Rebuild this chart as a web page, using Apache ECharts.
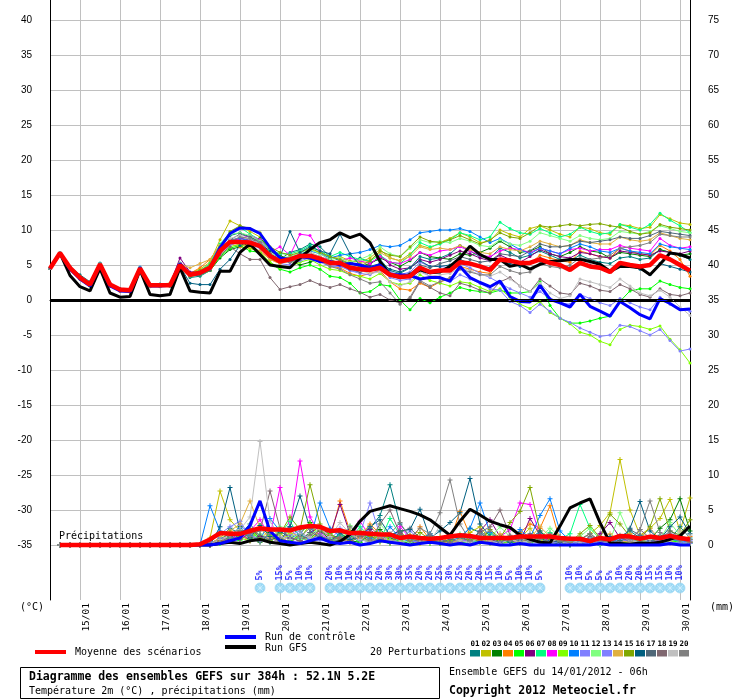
<!DOCTYPE html>
<html>
<head>
<meta charset="utf-8">
<title>GEFS ensembles</title>
<script src="https://cdn.jsdelivr.net/npm/echarts@6/dist/echarts.min.js"></script>
<style>
html, body { margin: 0; padding: 0; background: #fff; }
#chart { width: 740px; height: 700px; }
</style>
</head>
<body>
<div id="chart"></div>
<script>
// GEFS run of 14/01/2012 06h, one value every 6h from 0h to 384h (65 steps)
var hour = 3600 * 1000;
var runStart = Date.UTC(2012, 0, 14, 6);
var runEnd = runStart + 384 * hour;

var tempTicks = [-35, -30, -25, -20, -15, -10, -5, 0, 5, 10, 15, 20, 25, 30, 35, 40];
var precipTicks = [0, 5, 10, 15, 20, 25, 30, 35, 40, 45, 50, 55, 60, 65, 70, 75];

var memberNames = ['01','02','03','04','05','06','07','08','09','10','11','12','13','14','15','16','17','18','19','20'];
var memberColors = ['#008080','#c0c000','#008000','#ff8000','#00ff00','#800080','#00ff80','#ff00ff','#80ff00','#0080ff',
                    '#8080ff','#80ff80','#8080ff','#e0b040','#80a800','#005f80','#506878','#806870','#c0c0c0','#808080'];

// temperature 2m (°C)
var tempMean = [4.5,6.7,4.6,3.2,2.2,5.1,2.2,1.5,1.4,4.5,2.1,2.1,2.1,5.0,3.6,3.9,4.6,
  7.0,8.3,8.3,8.2,7.7,6.3,5.5,5.8,6.3,6.3,5.9,5.3,
  5.3,4.6,4.4,4.3,4.6,3.6,3.3,3.4,4.6,4.0,4.2,4.2,
  5.4,5.2,4.8,4.3,5.8,5.6,5.3,5.3,5.8,5.3,5.0,4.3,
  5.3,4.8,4.6,4.0,5.3,5.0,4.8,5.0,6.4,5.8,5.0,4.2];
var tempControl = [4.5,6.7,4.4,3.0,2.0,5.0,2.0,1.3,1.2,4.6,2.0,2.0,2.1,5.2,3.6,3.8,4.6,
  7.5,9.5,10.3,10.2,9.5,7.5,6.0,5.8,6.2,6.0,5.5,5.5,
  5.0,5.2,5.0,4.5,5.0,3.6,3.6,3.5,3.0,3.2,3.2,2.7,
  4.8,3.2,2.5,1.9,2.7,0.5,-0.2,-0.3,2.1,0.1,-0.4,-1.0,
  0.8,-0.9,-1.6,-2.3,-0.2,-1.1,-2.1,-2.7,0.2,-0.5,-1.4,-1.3];
var tempGfs = [4.5,6.7,3.5,1.9,1.3,4.5,1.0,0.4,0.5,4.3,0.8,0.6,0.8,4.6,1.3,1.1,1.0,
  4.1,4.1,6.8,8.0,6.5,5.0,4.8,4.6,6.0,7.2,8.2,8.6,
  9.6,8.9,9.4,8.2,5.5,3.6,3.2,3.6,4.3,3.9,4.0,4.8,
  6.0,7.7,6.5,5.8,5.8,4.8,5.1,4.4,5.1,5.5,5.6,5.8,
  5.8,5.5,5.1,4.1,4.8,4.8,4.6,3.6,5.1,6.7,6.5,6.0];

var t01 = [4.5,6.8,4.8,3.6,2.6,5.3,2.0,1.4,1.3,4.6,2.2,2.0,2.2,5.3,3.2,3.4,4.2,
  7.4,9.2,9.6,9.0,8.4,6.6,5.8,6.8,7.2,8.0,7.6,6.2,
  5.6,5.2,6.0,5.4,5.8,4.2,3.8,4.6,6.2,5.8,6.0,6.6,
  7.8,7.0,6.2,6.0,7.4,6.8,6.0,6.4,7.0,6.4,5.8,5.6,
  6.4,5.8,5.4,5.2,6.0,6.2,5.8,6.0,7.2,6.8,6.4,5.8];
var t02 = [4.5,6.7,4.5,3.0,2.0,5.0,2.3,1.6,1.4,4.4,2.2,2.3,2.4,5.2,3.8,4.4,5.4,
  8.6,11.3,10.6,9.8,9.0,7.0,6.2,6.0,6.4,7.2,6.8,6.0,
  6.2,5.6,5.4,6.0,7.2,6.0,5.6,6.6,7.8,7.4,8.2,8.8,
  9.6,9.0,8.2,8.4,10.0,9.4,9.0,10.2,10.6,10.0,9.4,9.0,
  10.4,10.2,9.6,9.4,10.8,10.6,10.2,10.4,12.2,11.6,11.0,10.8];
var t03 = [4.5,6.6,4.4,3.2,2.4,5.2,2.4,1.6,1.5,4.6,2.0,2.1,2.0,4.8,3.6,3.8,4.2,
  6.0,7.2,7.6,8.2,8.8,7.4,6.4,5.6,5.0,5.4,6.0,5.8,
  5.2,4.4,4.8,5.2,6.0,5.4,4.8,5.6,6.8,6.2,6.0,5.8,
  6.6,6.4,6.8,7.4,8.4,7.6,6.8,7.0,7.6,6.6,6.2,6.8,
  7.6,7.0,6.8,6.0,6.8,6.6,6.4,6.2,7.2,6.8,6.4,6.6];
var t04 = [4.5,6.7,4.7,3.4,2.3,5.0,2.0,1.2,1.1,4.4,1.9,1.9,2.0,4.9,3.8,4.6,5.8,
  7.8,8.0,7.6,7.4,7.0,5.8,5.2,5.6,6.0,6.2,5.6,4.8,
  4.6,3.8,3.4,3.8,4.2,2.6,1.6,1.4,2.4,1.8,2.6,3.0,
  4.8,4.4,4.0,3.8,5.6,5.6,5.0,5.2,6.4,6.0,5.6,5.4,
  7.0,6.6,6.2,6.0,7.4,7.0,6.6,6.4,7.8,7.0,5.8,3.4];
var t05 = [4.5,6.7,4.6,3.0,2.0,4.9,2.1,1.4,1.3,4.4,2.0,2.0,2.0,4.6,3.4,3.6,4.2,
  6.2,7.4,7.8,7.0,6.8,5.2,4.4,4.0,4.6,5.0,4.4,3.4,
  3.2,2.4,1.0,1.2,2.2,2.0,0.0,-1.4,0.2,-0.4,0.4,1.0,
  1.8,1.4,1.2,1.0,1.4,1.0,1.0,1.2,2.6,-0.8,-2.6,-3.3,
  -3.3,-3.0,-2.6,-2.3,-0.2,1.3,1.6,1.6,2.7,2.2,1.8,1.6];
var t06 = [4.5,6.7,4.4,3.0,2.1,5.1,2.3,1.5,1.4,4.6,2.2,2.2,2.3,6.0,4.0,4.0,4.6,
  6.8,8.4,8.8,8.6,8.0,6.6,5.6,5.4,6.0,6.6,6.2,5.6,
  5.4,4.8,4.6,5.0,6.4,5.0,4.4,4.6,5.8,5.4,5.8,6.4,
  7.0,6.6,6.0,5.6,6.4,5.8,5.4,6.2,7.2,6.6,6.2,6.0,
  6.8,6.6,6.2,6.0,7.0,6.8,6.6,6.4,7.0,6.8,6.6,7.0];
var t07 = [4.5,6.7,4.6,3.3,2.2,5.2,2.1,1.5,1.4,4.6,2.1,2.0,2.0,5.0,3.8,4.2,5.2,
  8.0,9.6,10.4,9.4,8.6,7.2,6.6,6.6,7.0,7.8,7.0,6.2,
  6.8,6.2,5.8,5.6,6.4,5.4,5.2,6.4,8.2,7.6,8.0,8.6,
  9.6,9.2,8.6,9.0,11.1,10.2,9.6,9.4,10.2,9.6,9.0,9.4,
  10.4,9.8,9.4,9.6,10.8,10.4,10.0,10.8,12.4,11.4,10.6,9.6];
var t08 = [4.5,6.7,4.6,3.1,2.2,5.0,2.2,1.6,1.5,4.5,2.1,2.2,2.1,5.0,3.6,3.9,4.4,
  6.6,8.2,8.8,9.2,8.6,6.8,7.6,6.4,9.4,9.2,7.0,5.2,
  5.6,6.0,5.6,5.2,6.2,5.4,5.2,5.8,6.8,6.4,7.0,7.2,
  7.6,7.0,6.4,6.2,7.0,7.4,7.2,6.8,7.4,7.0,6.6,7.2,
  7.4,7.0,7.2,7.2,7.8,7.4,7.2,7.0,8.8,7.8,7.4,7.6];
var t09 = [4.5,6.7,4.6,3.2,2.3,5.1,2.2,1.5,1.3,4.4,2.0,2.0,2.1,4.8,3.4,3.6,4.2,
  6.4,7.6,8.0,7.4,6.8,5.4,4.6,4.8,5.4,5.8,5.0,4.4,
  4.2,3.6,3.4,3.0,3.8,2.6,2.2,2.4,3.6,2.8,2.4,2.0,
  2.6,2.4,1.8,1.2,1.6,0.4,-0.6,-1.2,-0.2,-1.8,-2.6,-3.4,
  -4.6,-5.0,-5.9,-6.4,-4.2,-3.6,-3.8,-4.2,-3.7,-5.6,-7.1,-9.0];
var t10 = [4.5,6.7,4.6,3.2,2.2,5.2,2.3,1.6,1.5,4.7,2.3,2.3,2.3,5.2,3.8,4.0,4.8,
  7.2,8.6,8.8,8.4,8.0,6.4,5.6,6.0,6.6,7.0,6.6,6.0,
  6.4,6.6,6.8,7.2,7.8,7.6,7.8,8.6,9.6,9.8,10.0,10.0,
  10.2,9.8,9.0,8.2,8.8,8.0,7.2,6.6,7.4,7.0,6.6,7.4,
  8.0,7.6,7.0,6.8,7.4,7.0,6.8,6.6,8.0,7.6,7.4,7.2];
var t11 = [4.5,6.7,4.6,3.2,2.2,5.0,2.1,1.4,1.3,4.4,2.0,2.0,2.0,4.9,3.5,3.7,4.4,
  6.6,7.8,8.4,8.6,8.0,6.2,5.2,5.0,5.6,6.0,5.4,4.8,
  4.8,4.2,3.8,3.6,4.4,3.2,2.8,3.0,4.2,3.4,3.0,2.6,
  3.6,3.0,2.4,1.6,1.4,-0.2,-0.8,-1.8,-0.6,-1.6,-2.6,-3.2,
  -4.0,-4.6,-5.2,-5.0,-3.6,-3.8,-4.4,-5.0,-4.2,-5.8,-7.3,-7.0];
var t12 = [4.5,6.7,4.6,3.2,2.2,5.1,2.2,1.5,1.4,4.5,2.1,2.1,2.1,5.1,3.7,4.0,4.8,
  7.6,9.4,9.6,9.2,8.4,6.8,6.0,6.2,6.8,7.2,6.6,5.8,
  6.0,5.4,5.8,6.4,7.6,6.6,6.2,7.4,8.6,8.2,8.4,8.2,
  8.8,8.4,7.8,7.6,8.6,8.0,7.8,8.4,9.6,9.2,8.8,8.4,
  9.2,8.8,8.6,8.8,9.8,9.6,9.4,9.8,10.6,10.2,9.8,9.6];
var t13 = [4.5,6.7,4.6,3.1,2.1,5.0,2.1,1.4,1.4,4.5,2.1,2.1,2.1,5.0,3.6,3.9,4.5,
  6.8,8.0,8.2,8.0,7.4,6.0,5.4,5.6,6.2,6.4,5.8,5.0,
  5.0,4.2,4.0,4.4,5.2,4.0,3.6,4.0,5.4,4.8,4.8,4.6,
  5.2,4.6,3.8,3.2,2.4,1.6,1.0,0.4,1.2,0.2,-0.4,-0.6,
  0.8,0.2,-0.4,-0.8,0.2,-0.4,-1.0,-1.4,0.4,-0.6,-1.2,-1.6];
var t14 = [4.5,6.7,4.6,3.2,2.2,5.1,2.2,1.5,1.4,4.5,2.1,2.1,2.2,5.2,4.6,5.2,5.8,
  7.8,8.4,8.0,7.6,7.0,5.8,5.2,5.8,6.4,6.8,6.2,5.4,
  5.4,5.0,5.2,5.6,6.8,6.0,5.6,6.2,7.6,7.2,7.4,7.2,
  7.8,7.2,6.8,6.6,7.6,7.2,7.0,7.6,8.4,8.0,7.6,7.8,
  8.6,8.2,8.0,8.0,9.0,8.6,8.4,8.6,9.6,9.2,8.8,8.6];
var t15 = [4.5,6.7,4.6,3.2,2.2,5.1,2.2,1.5,1.4,4.5,2.1,2.1,2.1,5.0,3.7,4.2,5.0,
  7.6,9.8,10.6,10.2,9.6,7.6,6.8,6.4,6.8,7.4,6.8,6.2,
  5.8,5.2,4.8,5.6,7.0,6.4,6.2,7.6,9.0,8.4,8.2,8.6,
  9.2,8.6,8.0,8.6,9.6,9.0,8.8,9.6,10.6,10.4,10.6,10.8,
  10.6,10.8,10.9,10.6,10.4,9.8,9.4,9.6,10.8,10.4,10.2,10.0];
var t16 = [4.5,6.7,4.6,3.2,2.2,5.1,2.2,1.5,1.4,4.5,2.1,2.1,2.1,4.8,2.4,2.2,2.2,
  4.4,5.8,7.8,8.4,8.0,7.0,6.2,9.8,6.8,7.6,7.0,6.6,
  9.4,6.6,5.0,4.8,5.2,4.4,4.0,4.6,5.6,4.8,4.8,5.0,
  5.8,5.2,4.8,4.6,5.6,5.2,4.8,5.4,6.0,5.4,5.0,4.6,
  5.4,5.0,4.6,4.2,5.0,4.8,4.4,3.6,5.2,4.8,4.4,4.0];
var t17 = [4.5,6.7,4.6,3.2,2.2,5.1,2.2,1.5,1.4,4.5,2.1,2.1,2.1,5.0,3.4,3.6,4.2,
  6.8,8.6,9.4,9.0,8.2,6.6,5.8,5.6,6.0,6.4,6.0,5.4,
  5.2,4.4,4.0,4.2,4.8,3.8,3.4,3.8,5.0,4.6,5.2,5.6,
  6.2,5.8,5.4,5.6,6.6,6.4,6.2,7.0,8.0,7.6,7.6,7.8,
  8.4,8.2,8.4,8.6,9.0,8.8,8.8,9.2,9.8,9.6,9.4,9.2];
var t18 = [4.5,6.6,4.5,3.1,2.2,5.0,2.2,1.6,1.4,4.4,2.1,2.2,2.1,5.0,3.6,3.9,4.6,
  6.4,7.6,6.6,5.8,5.8,3.2,1.5,1.9,2.2,2.8,2.2,1.8,
  2.2,1.6,1.1,0.4,0.8,0.0,-0.4,0.2,2.6,1.8,1.0,0.6,
  2.4,2.0,1.4,1.0,2.6,3.2,2.0,1.2,3.0,2.0,1.0,0.8,
  2.4,2.0,1.4,1.2,2.2,1.6,0.8,0.4,1.6,0.8,0.6,1.0];
var t19 = [4.5,6.7,4.6,3.3,2.3,5.1,2.1,1.4,1.4,4.5,2.0,2.1,2.1,5.1,3.7,4.0,4.7,
  7.2,8.8,9.2,8.6,8.0,6.4,5.8,6.0,6.4,6.8,6.2,5.6,
  5.4,4.6,4.2,3.8,4.0,2.6,2.0,2.6,4.0,3.4,3.6,3.8,
  4.6,4.2,3.6,3.4,4.0,3.0,2.0,1.2,2.4,1.0,0.2,0.6,
  3.0,2.6,2.2,1.8,3.0,2.0,1.0,0.6,1.4,0.4,-1.0,-2.2];
var t20 = [4.5,6.7,4.7,3.2,2.1,5.2,2.3,1.5,1.3,4.6,2.2,2.1,2.0,4.9,3.5,3.8,4.5,
  6.8,8.4,9.0,8.8,8.2,6.6,5.6,5.4,5.8,6.2,5.6,4.8,
  4.4,3.6,3.0,2.4,2.6,1.0,-0.6,0.4,2.8,2.0,2.6,3.2,
  4.4,4.0,3.6,3.6,4.8,4.2,3.8,4.0,5.2,4.8,4.6,5.0,
  6.0,5.8,6.0,6.4,7.4,7.6,7.8,8.2,9.4,9.2,9.0,9.0];

// precipitation per 6h (mm), nothing at the analysis step
var precipMean = [null, 0,0,0,0,0, 0,0,0,0,0, 0,0,0,0, 0.1,
  0.8,1.7,1.6,1.6,2.0,2.4,2.2,2.2,2.1,2.5,2.7,2.6,2.0,
  2.1,1.7,1.7,1.6,1.5,1.5,1.0,1.2,1.0,0.9,1.0,1.2,
  1.4,1.3,1.0,1.0,1.0,1.0,1.2,1.2,1.2,1.2,1.0,0.9,
  0.9,0.55,1.0,0.8,1.3,1.2,0.9,1.2,1.0,1.3,1.0,0.8];
var precipControl = [null, 0,0,0,0,0, 0,0,0,0,0, 0,0,0,0,0,
  0.0,0.2,0.6,1.0,2.8,6.3,2.0,0.6,0.4,0.2,0.6,1.0,0.4,
  0.2,0.4,0.0,0.2,0.6,0.4,0.2,0.0,0.2,0.4,0.2,0.0,
  0.2,0.0,0.4,0.2,0.0,0.0,0.2,0.0,0.0,0.0,0.0,0.0,
  0.0,0.0,0.2,0.0,0.0,0.0,0.0,0.0,0.0,0.2,0.0,0.0];
var precipGfs = [null, 0,0,0,0,0, 0,0,0,0,0, 0,0,0,0,0,
  0.0,0.2,0.4,0.2,0.6,0.8,0.4,0.2,0.0,0.2,0.4,0.2,0.0,
  0.5,1.5,3.4,4.8,5.2,5.6,5.2,4.8,4.3,3.6,2.5,1.4,
  3.4,5.1,4.3,3.4,2.9,2.5,1.4,0.8,0.4,0.3,2.7,5.3,
  6.0,6.6,3.2,0.3,0.2,0.1,0.3,0.2,0.4,0.8,1.3,2.7];

var p01 = [null, 0,0,0,0,0, 0,0,0,0,0, 0,0,0,0,0,
  0.2,1.0,2.4,1.6,3.0,1.2,0.6,1.8,2.6,1.4,0.8,1.6,2.2,
  1.8,0.6,1.2,2.4,4.2,8.6,3.0,1.2,0.8,1.6,0.4,0.6,
  1.0,2.4,1.8,0.6,0.2,1.2,0.4,0.8,1.6,0.4,0.2,0.0,
  0.6,0.2,0.0,0.4,1.2,2.0,1.0,0.6,1.4,0.8,2.6,1.0];
var p02 = [null, 0,0,0,0,0, 0,0,0,0,0, 0,0,0,0,0,
  1.0,7.7,3.6,2.0,1.4,0.8,2.2,1.6,0.6,1.0,2.8,1.2,0.6,
  0.4,1.0,1.6,0.8,0.4,1.4,2.0,0.6,0.2,0.8,1.2,0.4,
  0.6,1.8,2.6,0.8,0.2,0.4,1.0,2.4,0.6,0.2,0.0,0.4,
  0.8,1.6,2.8,4.6,12.2,5.0,1.4,2.4,3.8,6.5,2.0,6.7];
var p03 = [null, 0,0,0,0,0, 0,0,0,0,0, 0,0,0,0,0,
  0.0,0.4,1.2,2.6,1.0,0.4,1.8,0.8,0.4,1.6,3.2,2.0,0.8,
  1.2,0.6,0.4,1.4,2.2,1.0,0.6,0.2,0.8,0.4,0.2,0.6,
  1.4,0.8,0.4,0.2,0.8,0.4,0.2,0.6,1.0,0.4,0.2,0.0,
  0.2,0.4,0.8,0.2,0.6,1.4,0.6,0.8,2.4,3.6,6.6,2.0];
var p04 = [null, 0,0,0,0,0, 0,0,0,0,0, 0,0,0,0,0,
  0.0,0.6,2.0,1.4,0.6,2.4,1.0,0.4,1.2,0.6,1.8,1.0,0.8,
  6.3,2.0,1.0,3.0,1.6,0.8,1.2,0.4,2.6,0.8,0.4,0.6,
  4.8,1.4,0.6,0.4,1.2,0.6,1.8,3.0,2.4,5.6,0.6,0.4,
  0.6,1.0,0.4,0.2,0.8,1.6,0.6,0.4,1.0,0.8,0.6,1.2];
var p05 = [null, 0,0,0,0,0, 0,0,0,0,0, 0,0,0,0,0,
  0.0,0.2,1.0,0.6,2.0,0.8,1.4,0.4,0.6,1.2,0.8,2.4,1.6,
  0.8,1.2,0.4,1.8,0.6,0.2,0.8,1.4,0.4,0.2,0.6,0.2,
  0.4,0.2,0.8,0.4,0.2,0.6,0.4,0.2,0.8,1.2,0.4,0.6,
  0.2,0.4,0.2,0.6,0.4,0.2,0.8,0.4,0.2,0.6,0.4,0.2];
var p06 = [null, 0,0,0,0,0, 0,0,0,0,0, 0,0,0,0,0,
  0.0,0.4,0.8,1.8,0.6,1.2,0.4,2.0,1.0,0.6,1.8,2.6,1.4,
  5.8,1.6,0.8,2.2,1.0,0.4,1.6,0.6,0.4,1.0,0.6,0.4,
  0.8,0.4,2.0,3.6,1.2,0.6,0.4,3.8,1.4,0.6,1.0,0.4,
  0.8,0.4,1.6,3.2,1.0,0.6,0.4,1.0,0.6,1.2,0.8,0.4];
var p07 = [null, 0,0,0,0,0, 0,0,0,0,0, 0,0,0,0,0,
  0.0,0.2,0.6,1.4,2.2,0.8,0.4,1.6,3.4,1.0,0.6,1.2,0.8,
  1.4,0.8,2.6,1.2,0.6,3.8,1.4,0.8,0.4,1.2,0.8,0.4,
  1.0,0.6,0.4,1.6,0.8,0.4,1.2,0.6,0.4,1.8,0.8,1.6,
  5.8,2.4,0.8,0.4,1.4,0.8,0.6,0.4,1.2,0.6,0.8,0.4];
var p08 = [null, 0,0,0,0,0, 0,0,0,0,0, 0,0,0,0,0,
  0.0,0.6,1.4,0.8,2.0,3.6,1.2,8.2,2.4,12.0,4.0,1.6,0.8,
  1.0,0.6,3.4,1.2,0.8,0.4,2.6,1.0,0.4,0.8,0.6,0.2,
  0.4,1.0,0.6,0.4,1.2,2.2,6.0,5.8,1.4,0.6,0.4,0.8,
  0.4,0.2,0.6,1.0,0.4,0.8,1.2,0.4,0.6,1.0,0.8,0.4];
var p09 = [null, 0,0,0,0,0, 0,0,0,0,0, 0,0,0,0,0,
  0.0,0.8,1.8,1.0,0.6,2.8,1.4,0.6,1.6,0.8,3.0,1.4,0.6,
  0.8,2.0,1.2,0.4,1.6,0.8,0.4,1.2,0.6,0.4,0.8,0.2,
  0.6,0.4,1.0,0.2,0.6,0.4,0.2,0.8,0.4,0.6,0.2,0.4,
  0.8,0.4,0.2,0.6,0.2,0.4,0.8,0.2,0.4,0.6,0.2,0.4];
var p10 = [null, 0,0,0,0,0, 0,0,0,0,0, 0,0,0,0,0,
  5.6,2.0,1.0,2.4,1.4,0.6,3.8,2.0,1.0,1.6,0.8,6.0,2.4,
  1.2,0.8,1.8,1.0,0.6,2.6,1.0,0.4,0.8,1.6,0.6,0.4,
  1.2,2.4,6.0,1.8,0.8,0.4,2.2,1.0,4.2,6.6,2.0,0.6,
  0.4,1.0,0.6,0.4,0.8,0.6,1.4,0.4,0.2,0.8,0.6,0.4];
var p11 = [null, 0,0,0,0,0, 0,0,0,0,0, 0,0,0,0,0,
  0.4,1.6,2.6,3.4,1.2,0.8,1.6,0.6,2.2,1.0,0.8,1.4,0.6,
  2.4,1.0,1.6,6.0,1.4,0.6,0.8,2.0,0.8,0.4,0.6,0.4,
  0.8,0.4,1.4,0.6,0.4,0.8,0.2,0.6,0.4,0.2,0.6,0.2,
  0.4,0.2,0.6,0.2,0.4,0.8,0.4,0.2,0.6,0.4,0.2,0.6];
var p12 = [null, 0,0,0,0,0, 0,0,0,0,0, 0,0,0,0,0,
  0.0,0.4,1.4,2.2,0.8,1.6,0.6,2.6,1.2,0.8,1.6,2.2,1.0,
  0.6,2.8,1.2,0.4,3.0,1.4,0.6,0.4,1.2,0.8,0.4,0.6,
  1.6,0.8,0.4,1.0,2.6,1.2,0.6,0.4,1.0,2.4,1.2,0.6,
  1.2,2.4,0.8,0.6,4.6,1.4,0.6,1.0,0.8,3.2,1.4,0.8];
var p13 = [null, 0,0,0,0,0, 0,0,0,0,0, 0,0,0,0,0,
  0.2,1.0,0.6,2.8,1.6,0.6,1.0,0.4,1.4,2.0,0.8,0.6,1.2,
  0.8,1.4,0.6,2.6,1.2,0.4,1.8,0.6,0.4,1.0,0.4,0.2,
  0.6,0.4,0.8,0.2,0.4,1.0,0.6,0.2,0.4,0.6,0.2,0.4,
  0.2,0.6,0.4,0.2,0.8,0.4,0.2,0.6,0.4,0.2,0.4,0.2];
var p14 = [null, 0,0,0,0,0, 0,0,0,0,0, 0,0,0,0,0,
  0.0,1.2,2.0,3.0,6.3,2.4,1.0,0.6,1.8,1.2,0.6,2.2,1.4,
  0.8,0.4,1.6,2.8,1.0,0.6,0.4,1.4,0.8,0.4,0.6,0.2,
  0.8,1.2,0.4,0.6,1.6,0.8,0.4,1.0,2.6,1.2,0.4,0.6,
  1.0,0.4,0.8,1.6,0.6,0.4,1.2,2.4,0.8,0.6,1.0,0.4];
var p15 = [null, 0,0,0,0,0, 0,0,0,0,0, 0,0,0,0,0,
  0.0,0.6,1.8,1.2,2.4,1.0,0.6,1.6,4.0,2.2,8.6,3.0,1.4,
  1.0,0.6,2.0,1.2,0.8,0.4,1.4,0.6,1.8,0.8,0.4,0.6,
  1.4,0.8,0.6,2.2,1.0,3.2,4.8,8.2,2.0,0.8,0.6,0.4,
  1.6,2.8,1.0,4.4,3.0,1.2,0.8,2.6,6.6,2.0,1.4,3.6];
var p16 = [null, 0,0,0,0,0, 0,0,0,0,0, 0,0,0,0,0,
  0.0,2.6,8.2,2.0,1.0,2.8,1.2,0.6,2.6,7.0,2.4,1.0,0.6,
  1.6,0.8,1.2,2.6,3.6,1.4,2.0,2.2,5.1,1.0,2.0,3.2,
  4.6,9.5,3.0,1.2,0.8,0.4,1.6,0.8,2.0,0.6,0.4,1.0,
  0.6,0.4,0.8,1.2,0.6,2.4,6.2,2.0,0.8,2.6,4.0,1.6];
var p17 = [null, 0,0,0,0,0, 0,0,0,0,0, 0,0,0,0,0,
  0.0,0.8,1.6,1.0,2.2,1.4,0.8,2.0,1.0,0.6,1.8,1.2,0.8,
  0.6,1.6,0.8,0.4,1.2,0.6,1.8,2.4,1.0,0.6,0.4,0.8,
  1.2,0.6,2.0,0.8,0.4,1.0,0.6,1.6,0.8,0.4,1.2,0.6,
  0.8,1.6,0.6,0.4,1.0,2.2,1.4,0.6,0.8,2.0,1.2,0.8];
var p18 = [null, 0,0,0,0,0, 0,0,0,0,0, 0,0,0,0,0,
  0.0,0.4,1.2,0.8,1.6,2.0,7.7,2.4,1.0,0.6,1.4,2.0,1.2,
  0.8,0.4,1.2,0.6,3.0,5.0,1.6,0.8,0.6,1.4,0.8,0.4,
  1.0,0.6,1.8,2.6,5.0,1.4,0.8,0.6,1.2,0.4,0.8,0.6,
  0.4,1.2,0.8,0.4,1.0,0.6,2.2,1.0,0.6,1.6,0.8,0.4];
var p19 = [null, 0,0,0,0,0, 0,0,0,0,0, 0,0,0,0,0,
  0.0,0.8,1.4,2.2,4.0,14.8,3.4,1.2,0.8,1.6,1.0,2.4,1.2,
  3.2,1.6,0.8,0.4,1.2,0.6,0.4,1.0,0.8,0.4,2.8,1.2,
  0.6,0.4,1.0,0.6,0.2,0.8,0.4,0.6,0.2,0.4,1.0,0.6,
  0.4,0.8,0.2,0.6,1.4,0.6,0.4,0.8,1.2,0.6,2.0,1.4];
var p20 = [null, 0,0,0,0,0, 0,0,0,0,0, 0,0,0,0,0,
  0.0,0.4,1.0,2.0,1.2,0.6,1.6,1.0,0.4,1.2,2.4,1.0,0.6,
  1.2,2.6,1.4,0.8,0.6,1.6,3.2,1.0,2.4,1.6,4.6,9.3,
  3.0,0.6,1.4,2.0,0.8,0.6,1.2,0.4,0.8,1.6,0.6,0.4,
  0.8,1.6,0.6,0.4,1.2,0.8,2.2,6.3,1.8,1.0,0.6,0.8];

// probability of snow (%), 0 = no symbol
var snowPct = [0,0,0,0,0,0,0,0,0,0, 0,0,0,0,0,0,0,0,0,0,
  0,5,0,15,5,10,10,0,20,10, 10,25,25,20,30,30,35,20,20,25,
  30,25,20,20,15,10,5,10,10,5, 0,0,10,10,5,5,5,10,20,20,
  15,15,10,10,0];

var tempMembers = [t01,t02,t03,t04,t05,t06,t07,t08,t09,t10,t11,t12,t13,t14,t15,t16,t17,t18,t19,t20];
var precipMembers = [p01,p02,p03,p04,p05,p06,p07,p08,p09,p10,p11,p12,p13,p14,p15,p16,p17,p18,p19,p20];

function at6h(values) {
    return values.map(function (v, i) { return [runStart + i * 6 * hour, v]; });
}

function pad2(n) { return (n < 10 ? '0' : '') + n; }

var mono = '"DejaVu Sans Mono", monospace';
var plusSymbol = 'path://M2,0H3V2H5V3H3V5H2V3H0V2H2Z';
var flakeSymbol = 'path://M4.6,0H5.4V10H4.6Z M0,4.6H10V5.4H0Z M1.2,1.8L1.8,1.2L8.8,8.2L8.2,8.8Z M8.2,1.2L8.8,1.8L1.8,8.8L1.2,8.2Z';

var chart = echarts.init(document.getElementById('chart'));

var series = [];

// double line at 0 °C (one pixel apart)
series.push({
    type: 'line', xAxisIndex: 0, yAxisIndex: 0, silent: true, z: 1,
    data: [[runStart, 0]], symbol: 'none', lineStyle: { opacity: 0 },
    markLine: {
        silent: true, symbol: 'none', animation: false,
        label: { show: false },
        lineStyle: { color: '#000', width: 1, type: 'solid' },
        data: [{ yAxis: 0.0714 }, { yAxis: -0.2143 }]
    }
});

tempMembers.forEach(function (vals, k) {
    series.push({
        name: 'T' + memberNames[k], type: 'line', xAxisIndex: 0, yAxisIndex: 0, z: 2,
        data: at6h(vals), symbol: 'circle', symbolSize: 3, silent: true,
        lineStyle: { width: 1, color: memberColors[k] },
        itemStyle: { color: memberColors[k] }
    });
});
precipMembers.forEach(function (vals, k) {
    series.push({
        name: 'P' + memberNames[k], type: 'line', xAxisIndex: 0, yAxisIndex: 1, z: 2,
        data: at6h(vals), symbol: plusSymbol, symbolSize: 5, silent: true,
        lineStyle: { width: 1, color: memberColors[k] },
        itemStyle: { color: memberColors[k] }
    });
});

[[tempGfs, precipGfs, '#000000', 3, 3], [tempControl, precipControl, '#0000ff', 3, 4], [tempMean, precipMean, '#ff0000', 4.5, 5]]
.forEach(function (s) {
    series.push({ type: 'line', xAxisIndex: 0, yAxisIndex: 0, z: s[4], silent: true,
        data: at6h(s[0]), symbol: 'none', lineStyle: { width: s[3], color: s[2] } });
    series.push({ type: 'line', xAxisIndex: 0, yAxisIndex: 1, z: s[4], silent: true,
        data: at6h(s[1]), symbol: 'none', lineStyle: { width: s[3], color: s[2] } });
});

// snow probability row
var snowPoints = [];
snowPct.forEach(function (p, i) {
    if (p > 0) snowPoints.push([runStart + i * 6 * hour, 0.5, p]);
});
series.push({
    type: 'scatter', xAxisIndex: 1, yAxisIndex: 2, silent: true, z: 3,
    data: snowPoints, symbol: 'circle', symbolSize: 10,
    itemStyle: { color: '#7ccdf2', borderColor: '#a8dcf4', borderWidth: 1 },
    label: {
        show: true, position: 'top', distance: 2, rotate: 90,
        align: 'left', verticalAlign: 'middle',
        formatter: function (p) { return p.value[2] + '%'; },
        color: '#0000ff', fontFamily: mono, fontSize: 8.5, fontWeight: 'bold'
    }
});
series.push({
    type: 'scatter', xAxisIndex: 1, yAxisIndex: 2, silent: true, z: 4,
    data: snowPoints, symbol: flakeSymbol, symbolSize: 8,
    itemStyle: { color: '#e8f7ff' }
});

var graphic = [
    { type: 'text', x: 59, y: 536, z: 100, style: { text: 'Précipitations', font: '10px ' + mono, fill: '#000', textVerticalAlign: 'middle' } },
    { type: 'text', x: 20, y: 607, style: { text: '(°C)', font: '10px ' + mono, fill: '#000', textVerticalAlign: 'middle' } },
    { type: 'text', x: 710, y: 607, style: { text: '(mm)', font: '10px ' + mono, fill: '#000', textVerticalAlign: 'middle' } },
    { type: 'line', shape: { x1: 225, y1: 637, x2: 256, y2: 637 }, style: { stroke: '#0000ff', lineWidth: 4 } },
    { type: 'text', x: 265, y: 637, style: { text: 'Run de contrôle', font: '10px ' + mono, fill: '#000', textVerticalAlign: 'middle' } },
    { type: 'line', shape: { x1: 225, y1: 647, x2: 256, y2: 647 }, style: { stroke: '#000000', lineWidth: 4 } },
    { type: 'text', x: 265, y: 648, style: { text: 'Run GFS', font: '10px ' + mono, fill: '#000', textVerticalAlign: 'middle' } },
    { type: 'line', shape: { x1: 35, y1: 652, x2: 66, y2: 652 }, style: { stroke: '#ff0000', lineWidth: 4 } },
    { type: 'text', x: 75, y: 652, style: { text: 'Moyenne des scénarios', font: '10px ' + mono, fill: '#000', textVerticalAlign: 'middle' } },
    { type: 'text', x: 370, y: 652, style: { text: '20 Perturbations', font: '10px ' + mono, fill: '#000', textVerticalAlign: 'middle' } },
    { type: 'rect', shape: { x: 20.5, y: 667.5, width: 419, height: 31 }, style: { fill: '#fff', stroke: '#000', lineWidth: 1 } },
    { type: 'text', x: 29, y: 677, style: { text: 'Diagramme des ensembles GEFS sur 384h : 52.1N 5.2E', font: 'bold 11.5px ' + mono, fill: '#000', textVerticalAlign: 'middle' } },
    { type: 'text', x: 29, y: 691, style: { text: 'Température 2m (°C) , précipitations (mm)', font: '10px ' + mono, fill: '#000', textVerticalAlign: 'middle' } },
    { type: 'text', x: 449, y: 672, style: { text: 'Ensemble GEFS du 14/01/2012 - 06h', font: '10px ' + mono, fill: '#000', textVerticalAlign: 'middle' } },
    { type: 'text', x: 449, y: 691, style: { text: 'Copyright 2012 Meteociel.fr', font: 'bold 11.5px ' + mono, fill: '#000', textVerticalAlign: 'middle' } }
];
memberColors.forEach(function (c, k) {
    graphic.push({ type: 'rect', shape: { x: 470 + k * 11, y: 650, width: 10, height: 6.5 }, style: { fill: c } });
    graphic.push({ type: 'text', x: 475 + k * 11, y: 644.5, style: { text: memberNames[k], font: 'bold 7.5px ' + mono, fill: '#000', textAlign: 'center', textVerticalAlign: 'middle' } });
});

chart.setOption({
    animation: false,
    useUTC: true,
    backgroundColor: '#fff',
    grid: [
        { left: 50, right: 50, top: 0, height: 600 },
        { left: 50, right: 50, top: 578, height: 20 }
    ],
    xAxis: [
        {
            type: 'time', gridIndex: 0, min: runStart, max: runEnd,
            minInterval: 24 * hour, maxInterval: 24 * hour,
            axisLine: { show: true, lineStyle: { color: '#000', width: 1 } },
            axisTick: { show: false },
            splitLine: { show: true, lineStyle: { color: '#c0c0c0', width: 1 } },
            axisLabel: {
                rotate: 90, margin: 3, padding: [14, 0, 0, 0],
                color: '#000', fontFamily: mono, fontSize: 9.5, hideOverlap: false,
                formatter: function (v) {
                    var d = new Date(v);
                    if (d.getUTCHours() !== 0) return '';
                    return pad2(d.getUTCDate()) + '/' + pad2(d.getUTCMonth() + 1);
                }
            }
        },
        { type: 'time', gridIndex: 1, min: runStart, max: runEnd, show: false }
    ],
    yAxis: [
        {
            type: 'value', gridIndex: 0, position: 'left', min: -42.857, max: 42.857,
            axisLine: { show: true, lineStyle: { color: '#000', width: 1 } },
            axisTick: { show: false, customValues: tempTicks },
            splitLine: { show: true, lineStyle: { color: '#c0c0c0', width: 1 } },
            axisLabel: { customValues: tempTicks, margin: 18, color: '#000', fontFamily: 'Liberation Sans', fontSize: 10 }
        },
        {
            type: 'value', gridIndex: 0, position: 'right', min: -7.857, max: 77.857,
            axisLine: { show: true, lineStyle: { color: '#000', width: 1 } },
            axisTick: { show: false, customValues: precipTicks },
            splitLine: { show: false },
            axisLabel: { customValues: precipTicks, margin: 18, color: '#000', fontFamily: 'Liberation Sans', fontSize: 10 }
        },
        { type: 'value', gridIndex: 1, min: 0, max: 1, show: false }
    ],
    graphic: graphic,
    series: series
});
</script>
</body>
</html>
